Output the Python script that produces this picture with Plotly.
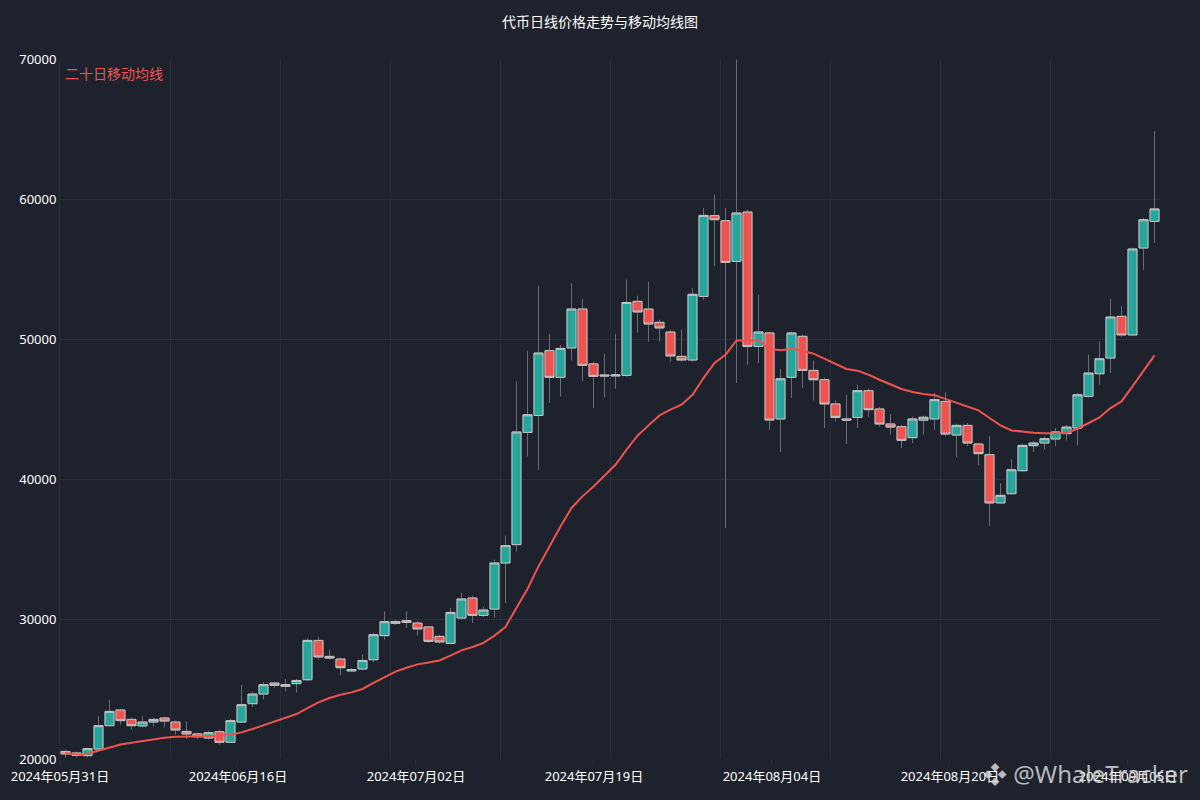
import plotly.graph_objects as go
import pandas as pd

# Daily candles (100 sessions)
dates = pd.date_range("2024-06-01", periods=100, freq="D")

opens = [20540, 20430, 20240, 20710, 22380, 23500, 22830, 22360, 22640, 22930,
         22640, 21970, 21790, 21500, 21950, 21190, 22640, 23950, 24640, 25430,
         25190, 25380, 25660, 28470, 27330, 27140, 26290, 26430, 27090, 28810,
         29690, 29880, 29710, 29430, 28760, 28260, 30070, 31500, 30260, 30710,
         34000, 35310, 43330, 44540, 49170, 47260, 49360, 52140, 48220, 47430,
         47360, 47400, 52690, 52140, 51190, 50500, 48760, 48500, 53040, 58810,
         58450, 55540, 59070, 49470, 50430, 44290, 47260, 50190, 47760, 47090,
         45360, 44290, 44400, 46310, 45000, 43930, 43740, 42950, 44200, 44290,
         45540, 43140, 43830, 42500, 41740, 38290, 38950, 40590, 42380, 42570,
         42860, 43240, 43640, 45900, 47520, 48640, 51620, 50290, 56500, 58400]
highs = [20660, 20520, 20810, 23040, 24240, 23590, 22950, 23090, 22950, 23020,
         22740, 22690, 21880, 22020, 22090, 22880, 25290, 24810, 25520, 25520,
         25710, 25740, 28660, 28710, 27810, 27240, 26500, 27450, 29020, 30540,
         29950, 30540, 29880, 29520, 28880, 30790, 31860, 31660, 30880, 34240,
         35950, 46970, 49170, 53810, 50380, 49590, 54000, 52860, 48380, 48930,
         50380, 54240, 53090, 54090, 51380, 50660, 50670, 53640, 59360, 60310,
         59360, 69950, 59240, 53160, 50520, 47880, 50520, 50310, 48470, 47240,
         45620, 46020, 46740, 46450, 45160, 44660, 43880, 44450, 44520, 46170,
         46190, 43950, 44000, 42590, 43040, 39710, 41430, 42520, 42740, 43020,
         43640, 43880, 46170, 48880, 49830, 52880, 52330, 56520, 58660, 64830]
lows = [20090, 20110, 20110, 20660, 22310, 22450, 22090, 22240, 22330, 22260,
        21740, 21430, 21450, 21380, 21020, 21160, 22590, 23710, 24240, 25090,
        24830, 24760, 25590, 27090, 27090, 25970, 26240, 26310, 26930, 28520,
        29590, 29360, 28810, 28310, 28240, 28200, 29950, 29710, 30160, 30090,
        31140, 34830, 41610, 40660, 45430, 45900, 48470, 46970, 45070, 45830,
        46430, 47310, 50470, 49810, 49830, 48360, 48380, 48380, 52810, 55190,
        36500, 46860, 48160, 48290, 43520, 41930, 45790, 46500, 45620, 43640,
        44110, 42500, 43640, 44430, 43760, 43160, 42210, 42570, 43160, 43520,
        43040, 41540, 42330, 40970, 36660, 38240, 38880, 40520, 41930, 42090,
        42330, 42760, 42400, 45810, 46740, 47570, 50160, 50240, 54950, 56860]
closes = [20360, 20260, 20740, 22380, 23400, 22740, 22380, 22640, 22830, 22710,
          22070, 21790, 21590, 21880, 21190, 22740, 23880, 24640, 25310, 25260,
          25310, 25610, 28470, 27290, 27210, 26520, 26380, 27040, 28880, 29810,
          29810, 29760, 29290, 28400, 28360, 30470, 31430, 30260, 30640, 34000,
          35240, 43360, 44590, 49000, 47260, 49330, 52140, 48120, 47330, 47360,
          47430, 52610, 51930, 51070, 50790, 48790, 48500, 53190, 58830, 58520,
          55470, 59000, 49470, 50500, 44210, 47160, 50430, 47760, 47090, 45360,
          44400, 44210, 46310, 44950, 43930, 43710, 42760, 44290, 44410, 45670,
          43210, 43830, 42570, 41810, 38290, 38830, 40660, 42400, 42570, 42880,
          43360, 43710, 46020, 47570, 48590, 51570, 50290, 56430, 58520, 59290]

# 20-day moving average as drawn on the chart
ma20 = [20430, 20330, 20380, 20610, 20830, 21040, 21160, 21290, 21400, 21520,
        21590, 21610, 21640, 21640, 21640, 21740, 21900, 22140, 22400, 22690,
        22950, 23210, 23640, 24040, 24360, 24590, 24760, 25000, 25430, 25860,
        26240, 26520, 26760, 26900, 27040, 27380, 27760, 28000, 28290, 28810,
        29430, 30810, 32140, 33760, 35190, 36610, 37930, 38760, 39470, 40240,
        41020, 42090, 43090, 43830, 44540, 44950, 45310, 46020, 47210, 48290,
        48880, 49900, 49900, 49900, 49290, 49190, 49310, 49160, 48950, 48590,
        48190, 47860, 47740, 47450, 47090, 46740, 46430, 46210, 46070, 45990,
        45720, 45450, 45140, 44900, 44360, 43830, 43470, 43380, 43310, 43260,
        43260, 43290, 43590, 44000, 44400, 45070, 45540, 46610, 47760, 48830]

bg = "#1e222d"
grid = "#2a2e39"
up = "#26a69a"
down = "#ef5350"
wick = "#6a6d75"
edge = "#c4c4c4"
day_ms = 86400000
half_day = pd.Timedelta(hours=12)

body_top = [max(o, c) for o, c in zip(opens, closes)]
body_bot = [min(o, c) for o, c in zip(opens, closes)]

fig = go.Figure()

# Wicks (dim) drawn first
fig.add_trace(go.Candlestick(
    x=dates, open=opens, high=highs, low=lows, close=closes,
    increasing=dict(fillcolor=up, line=dict(color=wick, width=1)),
    decreasing=dict(fillcolor=down, line=dict(color=wick, width=1)),
    whiskerwidth=0, showlegend=False, hoverinfo="skip", name="影线"
))

# Bodies with a light outline on top
fig.add_trace(go.Candlestick(
    x=dates, open=opens, high=body_top, low=body_bot, close=closes,
    increasing=dict(fillcolor=up, line=dict(color=edge, width=1)),
    decreasing=dict(fillcolor=down, line=dict(color=edge, width=1)),
    whiskerwidth=0, showlegend=False, name="K线"
))

fig.add_trace(go.Scatter(
    x=dates, y=ma20,
    mode="lines",
    line=dict(color=down, width=2),
    showlegend=False,
    name="二十日移动均线"
))

# Label in the top left corner of the plot
fig.add_annotation(
    text="二十日移动均线", xref="paper", yref="paper",
    x=0, y=1, xanchor="left", yanchor="top", xshift=3, yshift=-3,
    showarrow=False, font=dict(color=down, size=14)
)

# Watermark
fig.add_annotation(
    text="❖ @WhaleTracker", xref="paper", yref="paper",
    x=1.027, y=-0.02, xanchor="right", yanchor="middle",
    showarrow=False, font=dict(color="rgba(215,215,215,0.85)", size=24)
)

fig.update_layout(
    title=dict(text="代币日线价格走势与移动均线图", x=0.5, xanchor="center",
               y=0.9725, yanchor="middle", font=dict(size=14, color="#ffffff")),
    width=1200, height=800,
    paper_bgcolor=bg, plot_bgcolor=bg,
    margin=dict(l=60, r=40, t=59, b=41),
    boxgap=0.18, boxgroupgap=0, boxmode="overlay",
    font=dict(family="Noto Sans, Noto Sans CJK SC, sans-serif", color="#ffffff", size=13),
)

fig.update_xaxes(
    type="date",
    range=[dates[0] - half_day, dates[-1] + half_day],
    rangeslider_visible=False,
    tick0=dates[0] - half_day, dtick=16.18 * day_ms,
    tickformat="%Y年%m月%d日",
    showgrid=False, zeroline=False,
    ticks="outside", ticklen=5, tickcolor=grid,
    minor=dict(tick0=dates[0] - half_day, dtick=10 * day_ms,
               showgrid=True, gridcolor=grid, ticks=""),
)

fig.update_yaxes(
    range=[20000, 70000], dtick=10000, tickformat="d",
    showgrid=True, gridcolor=grid, zeroline=False,
    showline=True, linecolor=grid,
)

fig.write_html("out.html", config={"displayModeBar": False},
               post_script="document.body.style.margin='0';")
